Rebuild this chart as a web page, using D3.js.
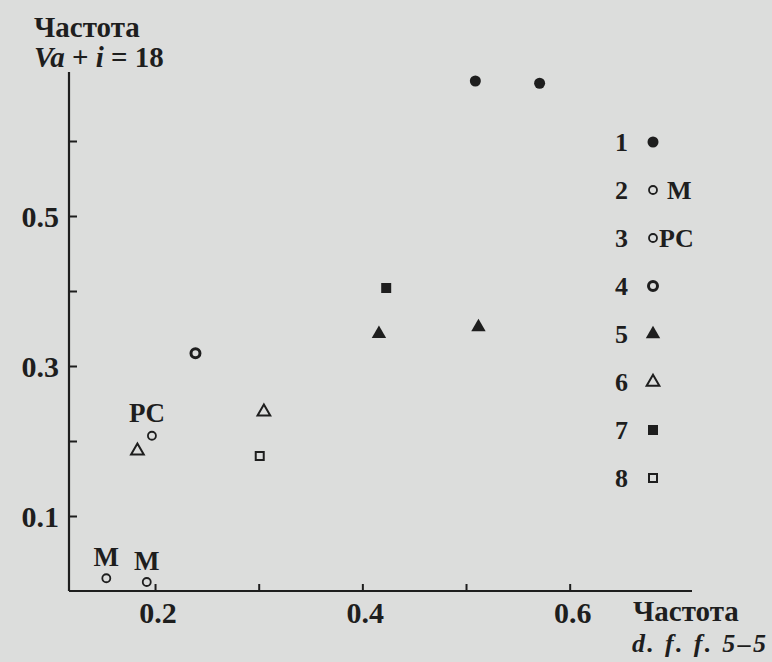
<!DOCTYPE html>
<html>
<head>
<meta charset="utf-8">
<script src="https://cdn.jsdelivr.net/npm/d3@7"></script>
<style>
  html, body { margin: 0; padding: 0; background: #dcdddc; }
  svg { display: block; }
  text { font-family: "Liberation Serif", "DejaVu Serif", serif; fill: #1e1e1e; }
</style>
</head>
<body>
<div id="chart"></div>
<script>
// данные: [частота d.f.f. 5-5, частота Va+i=18]
const series1 = [[0.509, 0.680], [0.571, 0.677]];          // ●
const series2 = [[0.153, 0.017], [0.192, 0.012]];          // ○ M
const series3 = [[0.197, 0.207]];                          // ○ PC
const series4 = [[0.239, 0.317]];                          // ◉
const series5 = [[0.416, 0.343], [0.512, 0.352]];          // ▲
const series6 = [[0.183, 0.187], [0.305, 0.239]];          // △
const series7 = [[0.423, 0.404]];                          // ■
const series8 = [[0.301, 0.180]];                          // □

const legendIds = ['1', '2', '3', '4', '5', '6', '7', '8'];
const legendNotes = ['', 'M', 'PC', '', '', '', '', ''];
const xTicks = [0.2, 0.3, 0.4, 0.5, 0.6];
const xTickLabels = ['0.2', '', '0.4', '', '0.6'];
const yTicks = [0.1, 0.2, 0.3, 0.4, 0.5, 0.6];
const yTickLabels = ['0.1', '', '0.3', '', '0.5', ''];

const width = 772, height = 662;
const svg = d3.select('#chart').append('svg')
  .attr('width', width)
  .attr('height', height);

// шкалы
const x = d3.scaleLinear().domain([0.117, 0.718]).range([69, 692]);
const y = d3.scaleLinear().domain([0, 0.692]).range([591, 72]);
const ink = '#1e1e1e';

// оси
const xAxis = svg.append('g')
  .attr('transform', `translate(0,${y(0)})`)
  .call(d3.axisTop(x).tickValues(xTicks).tickSize(7).tickFormat(''));
const yAxis = svg.append('g')
  .attr('transform', `translate(${x(0.117)},0)`)
  .call(d3.axisRight(y).tickValues(yTicks).tickSize(8).tickFormat(''));
[xAxis, yAxis].forEach(a => {
  a.select('.domain').attr('stroke', ink).attr('stroke-width', 2.2);
  a.selectAll('.tick line').attr('stroke', ink).attr('stroke-width', 2);
});
xAxis.select('.domain').attr('d', `M${x(0.117)},0H${x(0.718)}`);
yAxis.select('.domain').attr('d', `M0,${y(0)}V${y(0.692)}`);

// подписи делений
svg.append('g').selectAll('text')
  .data(xTicks.map((t, i) => [t, xTickLabels[i]]).filter(d => d[1]))
  .enter().append('text')
  .attr('x', d => x(d[0]) + 3)
  .attr('y', 623)
  .attr('text-anchor', 'middle')
  .attr('font-size', 30).attr('font-weight', 'bold')
  .text(d => d[1]);
svg.append('g').selectAll('text')
  .data(yTicks.map((t, i) => [t, yTickLabels[i]]).filter(d => d[1]))
  .enter().append('text')
  .attr('x', 59)
  .attr('y', d => y(d[0]) + 11)
  .attr('text-anchor', 'end')
  .attr('font-size', 30).attr('font-weight', 'bold')
  .text(d => d[1]);

// заголовки осей
const yTitle = svg.append('text').attr('x', 34).attr('y', 37)
  .attr('font-size', 29).attr('font-weight', 'bold');
yTitle.append('tspan').text('Частота');
const yTitle2 = svg.append('text').attr('x', 34).attr('y', 67)
  .attr('font-size', 29).attr('font-weight', 'bold');
yTitle2.append('tspan').attr('font-style', 'italic').text('Va');
yTitle2.append('tspan').text(' + ');
yTitle2.append('tspan').attr('font-style', 'italic').text('i');
yTitle2.append('tspan').text(' = 18');

svg.append('text').attr('x', 633).attr('y', 621)
  .attr('font-size', 29).attr('font-weight', 'bold')
  .text('Частота');
svg.append('text').attr('x', 632).attr('y', 652)
  .attr('font-size', 26).attr('font-weight', 'bold').attr('font-style', 'italic')
  .attr('textLength', 134).attr('lengthAdjust', 'spacing')
  .text('d. f. f. 5–5');

// маркеры
const tri = d3.symbol().type(d3.symbolTriangle);
function drawMarker(g, kind) {
  if (kind === 1) g.append('circle').attr('r', 5.5).attr('fill', ink);
  if (kind === 2 || kind === 3) g.append('circle').attr('r', 4).attr('fill', 'none')
    .attr('stroke', ink).attr('stroke-width', 1.8);
  if (kind === 4) g.append('circle').attr('r', 4.5).attr('fill', 'none')
    .attr('stroke', ink).attr('stroke-width', 3);
  if (kind === 5) g.append('path').attr('d', tri.size(90)()).attr('fill', ink);
  if (kind === 6) g.append('path').attr('d', tri.size(70)()).attr('fill', 'none')
    .attr('stroke', ink).attr('stroke-width', 2);
  if (kind === 7) g.append('rect').attr('x', -5).attr('y', -5).attr('width', 10).attr('height', 10).attr('fill', ink);
  if (kind === 8) g.append('rect').attr('x', -4).attr('y', -4).attr('width', 8).attr('height', 8)
    .attr('fill', 'none').attr('stroke', ink).attr('stroke-width', 2);
}

const allSeries = [series1, series2, series3, series4, series5, series6, series7, series8];
const points = svg.append('g');
allSeries.forEach((s, i) => {
  points.selectAll(null)
    .data(s)
    .enter().append('g')
    .attr('transform', d => `translate(${x(d[0])},${y(d[1])})`)
    .each(function () { drawMarker(d3.select(this), i + 1); });
});

// подписи точек
svg.append('g').selectAll('text')
  .data(series2)
  .enter().append('text')
  .attr('x', d => x(d[0]))
  .attr('y', d => y(d[1]) - 12)
  .attr('text-anchor', 'middle')
  .attr('font-size', 27).attr('font-weight', 'bold')
  .text('M');
svg.append('g').selectAll('text')
  .data(series3)
  .enter().append('text')
  .attr('x', d => x(d[0]) - 5)
  .attr('y', d => y(d[1]) - 14)
  .attr('text-anchor', 'middle')
  .attr('font-size', 27).attr('font-weight', 'bold')
  .text('PC');

// легенда
const legend = svg.append('g');
const legendY = d3.scalePoint().domain(legendIds).range([142, 478]);
const rows = legend.selectAll('g')
  .data(legendIds)
  .enter().append('g')
  .attr('transform', d => `translate(0,${legendY(d)})`);
rows.append('text')
  .attr('x', 628).attr('y', 9)
  .attr('text-anchor', 'end')
  .attr('font-size', 26).attr('font-weight', 'bold')
  .text(d => d);
rows.append('g')
  .attr('transform', 'translate(653,0)')
  .each(function (d, i) { drawMarker(d3.select(this), i + 1); });
rows.append('text')
  .attr('x', (d, i) => i === 1 ? 667 : 659).attr('y', 9)
  .attr('font-size', 26).attr('font-weight', 'bold')
  .text((d, i) => legendNotes[i]);
</script>
</body>
</html>
